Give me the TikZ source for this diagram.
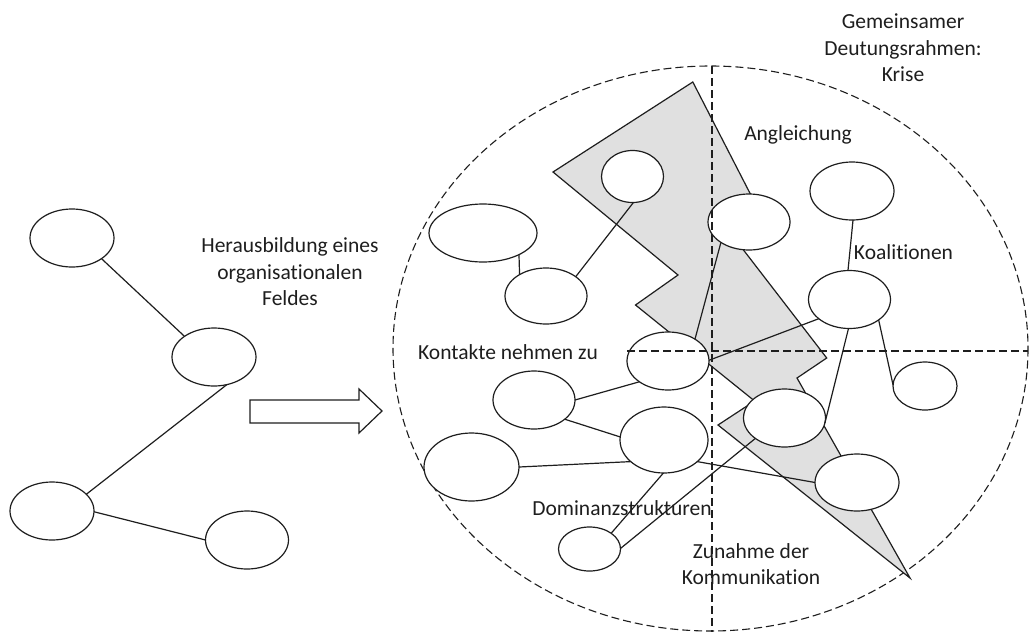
\documentclass[tikz,border=0pt]{standalone}
\usepackage{fontspec}
\setmainfont{Carlito}[Ligatures=NoCommon]
\usetikzlibrary{shapes.geometric}
\definecolor{boltgray}{HTML}{E0E0E0}
\definecolor{ink}{HTML}{1E1E1E}
\begin{document}
\begin{tikzpicture}[x=1pt,y=-1pt,
  el/.style 2 args={ellipse,draw=ink,fill=white,line width=1.2pt,inner sep=0pt,outer sep=0pt,minimum width=#1pt,minimum height=#2pt},
  edge/.style={draw=ink,line width=1.2pt},
  dsh/.style={draw=ink,line width=1.2pt,dash pattern=on 8pt off 4pt},
  dshc/.style={draw=ink,line width=1.1pt,dash pattern=on 8pt off 4pt},
  lbl/.style={font=\fontsize{21.5}{26.5}\selectfont,align=center,inner sep=0pt,text=ink}]
\useasboundingbox (0,0) rectangle (1030,632);
\fill[white] (0,0) rectangle (1030,632);

% outer dashed field
\draw[dshc] (710.5,348.5) ellipse [x radius=317.5, y radius=282.5];

% lightning bolt
\draw[ink,fill=boltgray,line width=1.2pt,line join=miter]
  (692.8,82) -- (553,172) -- (678,275) -- (635.5,305) -- (754.6,401) -- (718,425)
  -- (910,578) -- (797,378) -- (826.7,358) -- (735,239) -- (765,222.5) -- cycle;

% block arrow
\draw[ink,fill=white,line width=1.2pt]
  (250,400) -- (359,400) -- (359,389) -- (382,411) -- (359,433) -- (359,423) -- (250,423) -- cycle;

% left network
\node[el={84}{58}] (L1) at (72,238) {};
\node[el={84}{58}] (L2) at (214,357) {};
\node[el={84}{58}] (L3) at (52,511) {};
\node[el={83}{58}] (L4) at (247,540) {};

% right network
\node[el={62}{52}] (R1) at (632.5,176.5) {};
\node[el={108}{58}] (R2) at (483,233) {};
\node[el={82}{56}] (R3) at (546,296) {};
\node[el={82}{58}] (R4) at (668,361) {};
\node[el={82}{58}] (R5) at (534,400) {};
\node[el={88}{66}] (R6) at (664,440) {};
\node[el={95}{68}] (R7) at (471.5,467) {};
\node[el={62}{44}] (R8) at (589.5,549) {};
\node[el={82}{58}] (R9) at (784.5,418) {};
\node[el={84}{57}] (R10) at (857,482.5) {};
\node[el={82}{56}] (R11) at (749,222) {};
\node[el={82}{58}] (R12) at (849.5,299.5) {};
\node[el={84}{58}] (R13) at (852,191) {};
\node[el={64}{48}] (R14) at (925,386) {};

% connectors
\draw[edge] (L1.-35.6) -- (L2.145);
\draw[edge] (L2.-65.6) -- (L3.26.6);
\draw[edge] (L3.-1) -- (L4.180);

\draw[edge] (R2.-31.5) -- (R3.141.6);
\draw[edge] (R3.33) -- (R1.-88);
\draw[edge] (R5.0) -- (R4.216);
\draw[edge] (R5.-32.7) -- (R6.176.4);
\draw[edge] (R7.0) -- (R6.213);
\draw[edge] (R6.-91) -- (R8.36);
\draw[edge] (R8.1) -- (R9.215);
\draw[edge] (R6.-33.6) -- (R10.180);
\draw[edge] (R4.39.6) -- (R11.216);
\draw[edge] (R4.1.4) -- (R12.212);
\draw[edge] (R13.-88) -- (R12.93);
\draw[edge] (R12.-92) -- (R9.-7);
\draw[edge] (R12.-35.7) -- (R14.178);

% quadrant lines
\coordinate (vtop) at (712,66);
\coordinate (vbot) at (712,632);
\coordinate (hleft) at (627,351);
\coordinate (hright) at (1028,351);
\draw[dsh] (vtop) -- (vbot);
\draw[dsh] (hleft) -- (hright);

% labels
\node[lbl] (t1) at (290,272) {Herausbildung eines\\organisationalen\\Feldes};
\node[lbl] (t2) at (903,48) {Gemeinsamer\\Deutungsrahmen:\\Krise};
\node[lbl] (t3) at (798,135) {Angleichung};
\node[lbl] (t4) at (903.5,252) {Koalitionen};
\node[lbl] (t5) at (508,352) {Kontakte nehmen zu};
\node[lbl] (t6) at (622,508) {Dominanzstrukturen};
\node[lbl] (t7) at (751,564) {Zunahme der\\Kommunikation};
\end{tikzpicture}
\end{document}
